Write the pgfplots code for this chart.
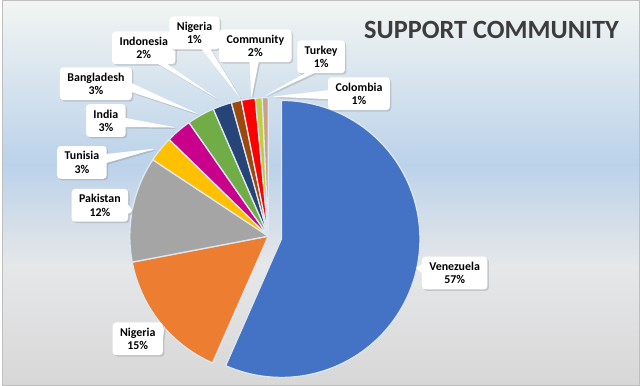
\documentclass[border=0pt]{standalone}
\usepackage{fontspec}
\setmainfont{Carlito}
\usepackage{pgfplots}
\pgfplotsset{compat=1.18}
\usepackage{pgfplotstable}
\usetikzlibrary{shapes.callouts,shadows}

\definecolor{slice0}{HTML}{4472C4}
\definecolor{slice1}{HTML}{ED7D31}
\definecolor{slice2}{HTML}{A5A5A5}
\definecolor{slice3}{HTML}{FFC000}
\definecolor{slice4}{HTML}{C8008C}
\definecolor{slice5}{HTML}{70AD47}
\definecolor{slice6}{HTML}{264478}
\definecolor{slice7}{HTML}{9E480E}
\definecolor{slice8}{HTML}{FF0000}
\definecolor{slice9}{HTML}{BFCE3A}
\definecolor{slice10}{HTML}{C9A088}
\definecolor{sepc}{HTML}{DDE7F1}
\definecolor{bgtop}{HTML}{F2F5F2}
\definecolor{bgblue}{HTML}{BBD2EA}
\definecolor{bgmid}{HTML}{E6E7E9}
\definecolor{bgbot}{HTML}{D7D7D7}
\definecolor{titlec}{HTML}{3C3C3C}

\pgfplotstableread{
idx name pct explode
0 Venezuela 56.6 13.5
1 Nigeria 15.4 0
2 Pakistan 12.3 0
3 Tunisia 3.0 0
4 India 3.0 0
5 Bangladesh 3.2 0
6 Indonesia 2.2 0
7 Nigeria 1.2 0
8 Community 1.6 0
9 Turkey 0.8 0
10 Colombia 0.7 0
}\piedata

\tikzset{callout/.style={rectangle callout, rounded corners=3.5pt, fill=white, draw=none,
  align=center, font=\fontsize{12}{13.5}\selectfont\bfseries, text=black,
  inner xsep=7.5pt, inner ysep=5.5pt, callout pointer width=9pt,
  drop shadow={shadow xshift=1.5pt, shadow yshift=-1.5pt, opacity=0.3}}}

\begin{document}
\xdef\cum{90}
\foreach \i in {0,...,10}{%
  \pgfplotstablegetelem{\i}{pct}\of\piedata \let\p\pgfplotsretval
  \pgfplotstablegetelem{\i}{explode}\of\piedata \let\e\pgfplotsretval
  \pgfmathsetmacro\a{\cum}%
  \pgfmathsetmacro\b{\cum-3.6*\p}%
  \pgfmathsetmacro\m{(\a+\b)/2}%
  \pgfmathsetmacro\ox{267+\e*cos(\m)}%
  \pgfmathsetmacro\oy{150+\e*sin(\m)}%
  \expandafter\xdef\csname sA\i\endcsname{\a}%
  \expandafter\xdef\csname sB\i\endcsname{\b}%
  \expandafter\xdef\csname cx\i\endcsname{\ox}%
  \expandafter\xdef\csname cy\i\endcsname{\oy}%
  \xdef\cum{\b}%
}%
\begin{tikzpicture}
\begin{axis}[width=640bp, height=387bp, scale only axis, xmin=0, xmax=640, ymin=0, ymax=387,
  hide axis, clip=false]
\shade[top color=bgtop, bottom color=bgblue] (axis cs:0,222) rectangle (axis cs:640,387);
\shade[top color=bgblue, bottom color=bgmid] (axis cs:0,120) rectangle (axis cs:640,222.5);
\shade[top color=bgmid, bottom color=bgbot] (axis cs:0,0) rectangle (axis cs:640,120.5);
\draw[color=black!25, line width=1bp] (axis cs:0.5,0.5) rectangle (axis cs:639.5,386.5);
\pgfplotsinvokeforeach{0,...,10}{
  \addplot[fill=slice#1, draw=sepc, line width=1.3bp, line join=round,
    domain=\csname sB#1\endcsname:\csname sA#1\endcsname, samples=90, variable=\t]
    ({\csname cx#1\endcsname+139*cos(\t)}, {\csname cy#1\endcsname+139*sin(\t)})
    -- (axis cs:\csname cx#1\endcsname,\csname cy#1\endcsname) -- cycle;
}
\node[font=\fontsize{26.5}{29}\selectfont\bfseries, text=titlec] at (axis cs:491,357) {SUPPORT COMMUNITY};
\node[callout, callout absolute pointer={(axis cs:414,119)}] at (axis cs:454,113) {Venezuela\\57\%};
\node[callout, callout absolute pointer={(axis cs:163,62)}] at (axis cs:136,47) {Nigeria\\15\%};
\node[callout, callout absolute pointer={(axis cs:132,175)}] at (axis cs:98,181) {Pakistan\\12\%};
\node[callout, callout absolute pointer={(axis cs:155,238)}] at (axis cs:80,224) {Tunisia\\3\%};
\node[callout, callout absolute pointer={(axis cs:175,259)}] at (axis cs:104,266) {India\\3\%};
\node[callout, callout absolute pointer={(axis cs:198,272)}] at (axis cs:94,303) {Bangladesh\\3\%};
\node[callout, callout absolute pointer={(axis cs:217,287)}] at (axis cs:142,339) {Indonesia\\2\%};
\node[callout, callout absolute pointer={(axis cs:240,287)}] at (axis cs:193,354) {Nigeria\\1\%};
\node[callout, callout absolute pointer={(axis cs:250,288)}] at (axis cs:254,341) {Community\\2\%};
\node[callout, callout absolute pointer={(axis cs:262,290)}] at (axis cs:320,330) {Turkey\\1\%};
\node[callout, callout absolute pointer={(axis cs:270,290)}] at (axis cs:358,293) {Colombia\\1\%};
\end{axis}
\end{tikzpicture}
\end{document}
